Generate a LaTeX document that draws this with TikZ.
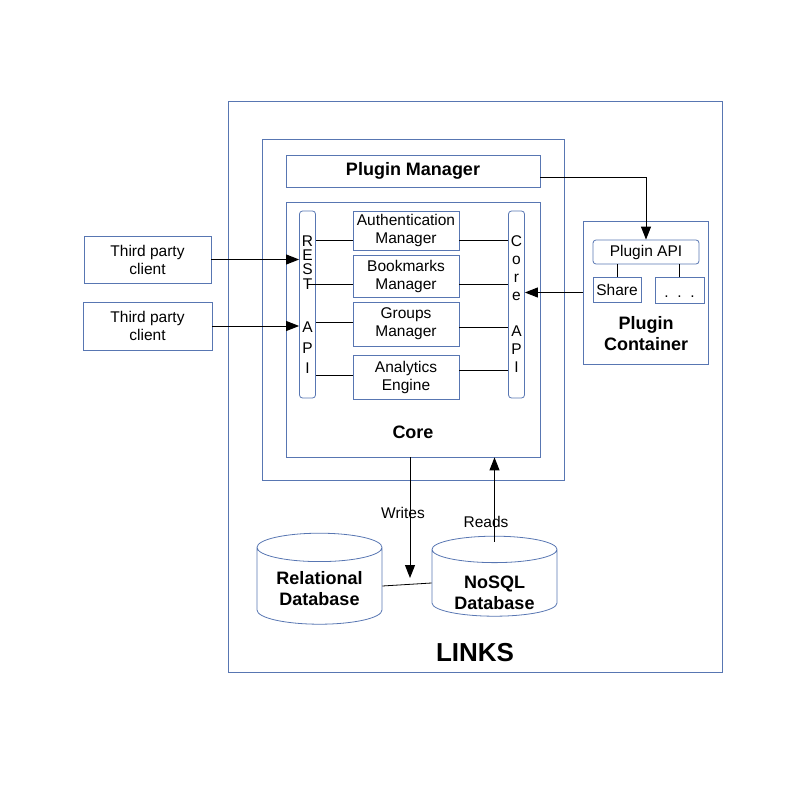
\documentclass[tikz,border=0pt]{standalone}
\usepackage{fontspec}
\setmainfont{Liberation Sans}
\usepackage{tikz}
\usetikzlibrary{shapes,arrows.meta}
\definecolor{frame}{RGB}{88,118,178}
\def\mgr#1#2#3#4{\node[mgr,minimum height=#3] (#1) at (#2) {#4}}
\tikzstyle{box}=[draw=frame,line width=0.8pt,inner sep=0pt]
\tikzstyle{txt}=[font=\fontsize{15.5}{18}\selectfont,align=center]
\tikzstyle{bold}=[font=\fontsize{18}{21}\selectfont\bfseries,align=center]
\tikzstyle{mgr}=[box,txt,minimum width=106pt]
\tikzstyle{api}=[box,rounded corners=3pt,minimum width=16pt,minimum height=187pt,align=center]
\tikzstyle{db}=[box,cylinder,shape border rotate=90,aspect=0.33,minimum width=125pt,bold]
\tikzstyle{wire}=[line width=0.8pt]
\tikzstyle{arr}=[line width=1pt,-{Triangle[length=13pt,width=10pt]}]

\begin{document}
\begin{tikzpicture}[x=1pt,y=-1pt]
    \useasboundingbox (0,0) rectangle (794,794);
    \node[box,minimum width=494pt,minimum height=571pt] (links) at (475,386.5) {};
    \node[box,minimum width=302pt,minimum height=341pt] (shell) at (413,309.5) {};
    \node[box,bold,minimum width=254pt,minimum height=32pt] (pm) at (413,171) {Plugin Manager};
    \node[box,minimum width=254pt,minimum height=255pt] (core) at (413,329.5) {};
    \node[bold] (corelbl) at (413,432) {Core};
    % api bars
    \node[api,font=\fontsize{15.5}{14.3}\selectfont] (rest) at (307.5,304.5)
        {R\\E\\S\\T\\[28.7pt]A\\[6.7pt]P\\[5.7pt]I};
    \node[api,font=\fontsize{15.5}{18}\selectfont] (capi) at (516.5,304.5)
        {C\\o\\r\\e\\[0pt]\\[0pt]A\\P\\I};
    % managers
    \mgr{auth}{406,230.5}{39pt}{Authentication\\Manager};
    \mgr{book}{406,276}{42pt}{Bookmarks\\Manager};
    \mgr{grp}{406,324}{44pt}{Groups\\Manager};
    \mgr{ana}{406,377}{44pt}{Analytics\\Engine};
    % plugins
    \node[box,minimum width=125pt,minimum height=143pt] (pc) at (645.5,292.5) {};
    \node[box,txt,rounded corners=3pt,minimum width=106pt,minimum height=24pt] (papi) at (646,252) {Plugin API};
    \node[box,txt,minimum width=48pt,minimum height=25pt] (share) at (617,289.5) {Share};
    \node[box,txt,minimum width=49pt,minimum height=26pt] (dots) at (679.5,290) {\rule{0pt}{14pt}.\ \ .\ \ .};
    \node[bold] (pclbl) at (646,334) {Plugin\\Container};
    % clients
    \node[box,txt,minimum width=127pt,minimum height=47pt] (cl1) at (147.5,259.5) {Third party\\client};
    \node[box,txt,minimum width=129pt,minimum height=48pt] (cl2) at (147.5,326) {Third party\\client};
    % storage
    \node[db,minimum height=91pt] (rel) at (319.5,586) {\rule{0pt}{19pt}Relational\\Database};
    \node[db,minimum height=80pt] (nosql) at (494.5,583)
        {\raisebox{-16.5pt}[0pt][0pt]{\begin{tabular}{@{}c@{}}NoSQL\\Database\end{tabular}}};
    \coordinate (wend) at (410,578);
    \node[txt] (lblw) at (403,513) {Writes};
    \node[txt] (lblr) at (486,522) {Reads};
    \node[font=\fontsize{26}{30}\selectfont\bfseries] (linkslbl) at (475,653) {LINKS};

    \draw[wire] ([yshift=-9.5pt]auth.west) -- ([yshift=-9.5pt]auth.west -| rest.east);
    \draw[wire] ([yshift=-8pt]book.west) -- ([yshift=-8pt]book.west -| rest.center);
    \draw[wire] ([yshift=2pt]grp.west) -- ([yshift=2pt]grp.west -| rest.east);
    \draw[wire] ([yshift=2pt]ana.west) -- ([yshift=2pt]ana.west -| rest.east);
    \draw[wire] ([yshift=-9.5pt]auth.east) -- ([yshift=-9.5pt]auth.east -| capi.west);
    \draw[wire] ([yshift=-8pt]book.east) -- ([yshift=-8pt]book.east -| capi.west);
    \draw[wire] ([yshift=-3pt]grp.east) -- ([yshift=-3pt]grp.east -| capi.west);
    \draw[wire] ([yshift=7pt]ana.east) -- ([yshift=7pt]ana.east -| capi.west);
    \draw[wire] (share.north) -- (share.north |- papi.south);
    \draw[wire] (dots.north) -- (dots.north |- papi.south);
    \draw[wire] (rel.east) -- (nosql.west);

    \draw[arr] (cl1.east) -- (cl1.east -| rest.west);
    \draw[arr] (cl2.east) -- (cl2.east -| rest.west);
    \draw[arr] ([yshift=-7pt]pm.east) -| (papi.north);
    \draw[arr] (pc.west) -- (pc.west -| capi.east);
    \draw[arr] ([xshift=-3pt]core.south) -- (wend);
    \draw[arr] ([yshift=-6pt]nosql.north) -- (nosql.north |- core.south);
\end{tikzpicture}
\end{document}
